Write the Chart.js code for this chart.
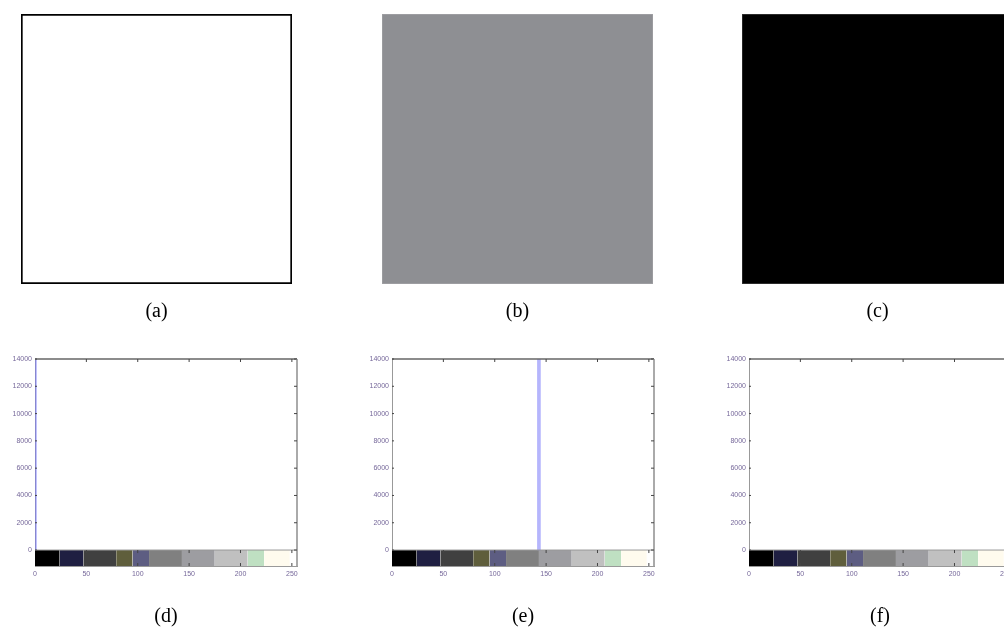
<!DOCTYPE html>
<html>
<head>
<meta charset="utf-8">
<script src="https://cdn.jsdelivr.net/npm/chart.js@4/dist/chart.umd.min.js"></script>
<style>
  html, body { margin: 0; padding: 0; background: #fff; overflow: hidden; width: 1004px; height: 632px; }
  canvas { position: absolute; }
</style>
</head>
<body>
<canvas id="imgA" width="291" height="320" style="left:11px;top:4px"></canvas>
<canvas id="imgB" width="291" height="320" style="left:372px;top:4px"></canvas>
<canvas id="imgC" width="291" height="320" style="left:732px;top:4px"></canvas>
<canvas id="histD" width="310" height="283" style="left:0px;top:349px"></canvas>
<canvas id="histE" width="310" height="283" style="left:357px;top:349px"></canvas>
<canvas id="histF" width="310" height="283" style="left:714px;top:349px"></canvas>
<script>
// top row: uniform test images
const imageLabels = ['(a)', '(b)', '(c)'];
const imageColors = ['#ffffff', '#8e8f93', '#000000'];
const imageBorders = ['#000000', '#a2a2a6', '#3a3a3a'];

// bottom row: gray-level histograms
const histLabels = ['(d)', '(e)', '(f)'];
const histLevels = [0, 143, 255];
const histCounts = [65536, 65536, 65536];
const yTickValues = [0, 2000, 4000, 6000, 8000, 10000, 12000, 14000];
const xTickValues = [0, 50, 100, 150, 200, 250];

// colour bar under each histogram
const barEdges = [0, 24, 47, 79, 95, 111, 143, 175, 207, 223, 248];
const barColors = ['#000000', '#1f1f42', '#404040', '#5f5e3c', '#5d5d82', '#808080',
                   '#9d9da1', '#c0c0c0', '#bfe0c2', '#fffbee'];

const captionFont = { family: 'Liberation Serif', size: 20, weight: 'normal', lineHeight: 1.2 };
const tickFont = { family: 'Liberation Sans', size: 7 };
const tickColor = '#76689a';

['imgA', 'imgB', 'imgC'].forEach((id, i) => {
  new Chart(document.getElementById(id), {
    type: 'bar',
    data: {
      labels: [''],
      datasets: [{
        data: [1],
        backgroundColor: imageColors[i],
        borderColor: imageBorders[i],
        borderWidth: i === 0 ? 2 : 1,
        borderSkipped: false,
        barPercentage: 1,
        categoryPercentage: 1
      }]
    },
    options: {
      responsive: false,
      animation: false,
      layout: { padding: { top: 10, left: 10, right: 10, bottom: 0 } },
      scales: {
        x: { display: false },
        y: { display: false, min: 0, max: 1 }
      },
      plugins: {
        legend: { display: false },
        tooltip: { enabled: false },
        title: {
          display: true, text: imageLabels[i], position: 'bottom', fullSize: false,
          font: captionFont, color: '#000', padding: { top: 16, bottom: 0 }
        }
      }
    }
  });
});

// frame with inward ticks, MATLAB style
const framePlugin = {
  id: 'frame',
  afterDatasetsDraw(chart) {
    const { ctx, chartArea: a, scales: { x, y } } = chart;
    const y0 = y.getPixelForValue(0);
    ctx.save();
    ctx.strokeStyle = '#666';
    ctx.lineWidth = 1.5;
    ctx.beginPath();
    ctx.moveTo(a.left, a.top);
    ctx.lineTo(a.right, a.top);
    ctx.stroke();
    ctx.strokeStyle = '#aaa';
    ctx.lineWidth = 2;
    ctx.beginPath();
    ctx.moveTo(a.right, a.top);
    ctx.lineTo(a.right, a.bottom);
    ctx.stroke();
    ctx.strokeStyle = '#999';
    ctx.lineWidth = 1;
    ctx.beginPath();
    ctx.moveTo(a.left, y0);
    ctx.lineTo(a.right, y0);
    ctx.stroke();
    ctx.strokeStyle = '#444';
    ctx.beginPath();
    xTickValues.forEach(v => {
      if (v === 0) return;
      const px = x.getPixelForValue(v);
      ctx.moveTo(px, a.top); ctx.lineTo(px, a.top + 3);
      ctx.moveTo(px, y0); ctx.lineTo(px, y0 + 3);
      ctx.moveTo(px, a.bottom); ctx.lineTo(px, a.bottom - 3);
    });
    yTickValues.forEach(v => {
      const py = y.getPixelForValue(v);
      ctx.moveTo(a.right, py); ctx.lineTo(a.right - 3, py);
      ctx.moveTo(a.left, py); ctx.lineTo(a.left + 2, py);
    });
    ctx.stroke();
    ctx.restore();
  }
};

['histD', 'histE', 'histF'].forEach((id, i) => {
  const segments = barColors.map((c, k) => ({
    type: 'line',
    data: [{ x: barEdges[k], y: 0 }, { x: barEdges[k + 1] !== undefined ? barEdges[k + 1] : 255, y: 0 }],
    fill: 'start',
    backgroundColor: c,
    borderColor: 'transparent',
    borderWidth: 0,
    pointRadius: 0,
    order: 2
  }));
  new Chart(document.getElementById(id), {
    type: 'bar',
    data: {
      datasets: [
        ...segments,
        {
          type: 'bar',
          data: [{ x: histLevels[i], y: histCounts[i] }],
          backgroundColor: 'rgba(120,120,250,0.55)',
          barThickness: 3,
          order: 1
        }
      ]
    },
    options: {
      responsive: false,
      animation: false,
      layout: { padding: { top: 10, left: 0, right: 13, bottom: 3 } },
      scales: {
        x: {
          type: 'linear', min: 0, max: 255, offset: false,
          afterBuildTicks: s => { s.ticks = xTickValues.map(v => ({ value: v })); },
          afterFit: s => { s.height = 29; },
          grid: { display: false, offset: false, tickLength: 0 },
          border: { display: true, color: '#999', width: 1 },
          ticks: { font: tickFont, color: tickColor, padding: 4, maxRotation: 0, autoSkip: false,
                   callback: v => String(v) }
        },
        y: {
          min: -1170, max: 14000,
          afterBuildTicks: s => { s.ticks = yTickValues.map(v => ({ value: v })); },
          afterFit: s => { s.width = 35; },
          grid: { display: false, tickLength: 0 },
          border: { display: true, color: '#999', width: 1 },
          ticks: { font: tickFont, color: tickColor, padding: 3, autoSkip: false,
                   callback: v => String(v) }
        }
      },
      plugins: {
        legend: { display: false },
        tooltip: { enabled: false },
        title: {
          display: true, text: histLabels[i], position: 'bottom', fullSize: false,
          font: captionFont, color: '#000', padding: { top: 10, bottom: 0 }
        }
      }
    },
    plugins: [framePlugin]
  });
});
</script>
</body>
</html>
